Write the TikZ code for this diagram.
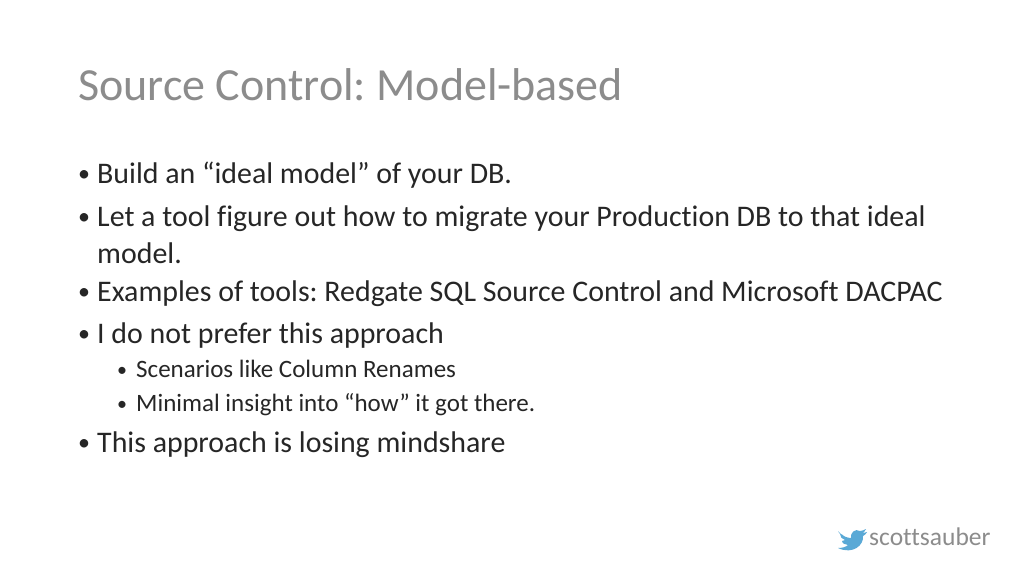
\documentclass[tikz,border=0pt]{standalone}
\usepackage{fontspec}
\setmainfont{Carlito}[Ligatures={NoCommon,NoContextual}]
\definecolor{titlegray}{HTML}{8C8C8C}
\definecolor{textcol}{HTML}{262626}
\definecolor{tw}{HTML}{5AA9D6}
\frenchspacing
\begin{document}
\begin{tikzpicture}[x=1pt,y=-1pt,
  title/.style={anchor=base west,inner sep=0,font=\frenchspacing\fontsize{46}{52}\selectfont,text=titlegray},
  lvl/.style={anchor=base west,inner sep=0,font=\frenchspacing\fontsize{29.9}{35}\selectfont,text=textcol},
  sub/.style={anchor=base west,inner sep=0,font=\frenchspacing\fontsize{25}{30}\selectfont,text=textcol},
  dot/.style={anchor=base west,inner sep=0,font=\fontsize{24}{30}\selectfont,text=textcol},
  sdot/.style={anchor=base west,inner sep=0,font=\fontsize{20}{24}\selectfont,text=textcol}]
\useasboundingbox[fill=white] (0,0) rectangle (1024,576);
\node[title] (t) at (78,100) {Source Control: Model-based};
\node[dot] (b1d) at (78,181) {•}; \node[lvl] (b1) at (97,183) {Build an “ideal model” of your DB.};
\node[dot] (b2d) at (78,224) {•}; \node[lvl] (b2) at (97,226) {Let a tool figure out how to migrate your Production DB to that ideal};
\node[lvl] (b2b) at (97,263) {model.};
\node[dot] (b3d) at (78,299) {•}; \node[lvl] (b3) at (97,301) {Examples of tools: Redgate SQL Source Control and Microsoft DACPAC};
\node[dot] (b4d) at (78,341) {•}; \node[lvl] (b4) at (97,343) {I do not prefer this approach};
\node[sdot] (s1d) at (117,376) {•}; \node[sub] (s1) at (136,377) {Scenarios like Column Renames};
\node[sdot] (s2d) at (117,410) {•}; \node[sub] (s2) at (136,411) {Minimal insight into “how” it got there.};
\node[dot] (b5d) at (78,450) {•}; \node[lvl] (b5) at (97,452) {This approach is losing mindshare};
% bird
\fill[tw] (838,531) .. controls (842,536) and (847,538) .. (851,538)
  .. controls (850,533) and (855,528) .. (860,531)
  .. controls (862,531) and (864,530) .. (866,529)
  .. controls (865,531) and (864,532) .. (863,533)
  .. controls (864,533) and (866,532) .. (867,532)
  .. controls (866,534) and (865,535) .. (863,536)
  .. controls (864,545) and (853,555) .. (838,548)
  .. controls (842,548) and (846,547) .. (848,545)
  .. controls (845,545) and (842,543) .. (842,541)
  .. controls (843,541) and (844,541) .. (845,540)
  .. controls (842,539) and (840,537) .. (840,534)
  .. controls (841,535) and (842,535) .. (843,535)
  .. controls (840,534) and (838,533) .. (838,531) -- cycle;
\node[anchor=base west,inner sep=0,font=\fontsize{25.5}{30}\selectfont,text=titlegray] (tw) at (869,545) {scottsauber};
\end{tikzpicture}
\end{document}
